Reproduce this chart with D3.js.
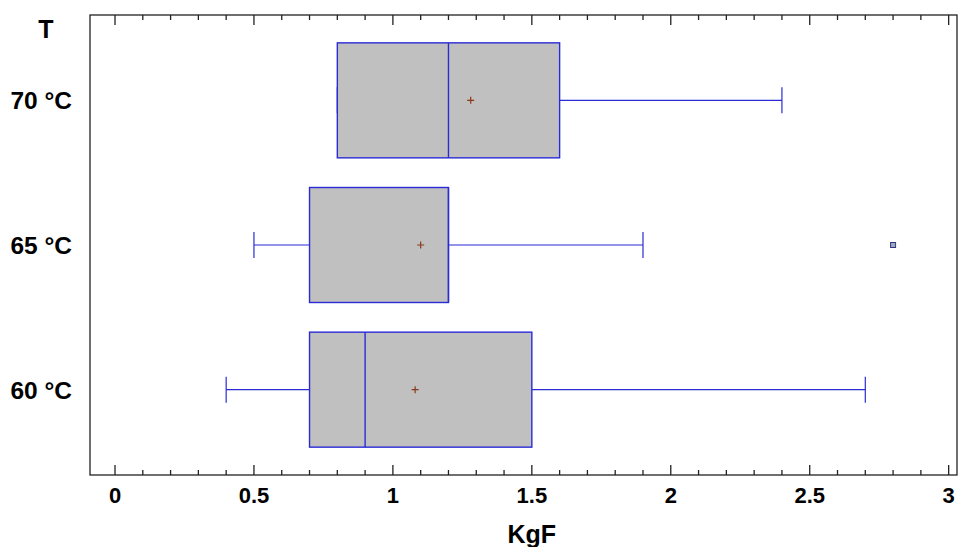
<!DOCTYPE html>
<html>
<head>
<meta charset="utf-8">
<script src="https://cdn.jsdelivr.net/npm/d3@7"></script>
<style>
body { margin: 0; background: #fff; }
text { font-family: "Liberation Sans", Arial, sans-serif; font-weight: bold; }
</style>
</head>
<body>
<div id="figure"></div>
<script>
const groups = ['70 °C', '65 °C', '60 °C']
const lowWhisker = [0.8, 0.5, 0.4]
const q1 = [0.8, 0.7, 0.7]
const median = [1.2, 1.2, 0.9]
const q3 = [1.6, 1.2, 1.5]
const highWhisker = [2.4, 1.9, 2.7]
const means = [1.28, 1.1, 1.08]
const outliers = [[], [2.8], []]
const xTicks = [0, 0.5, 1, 1.5, 2, 2.5, 3]

const width = 962, height = 547
const plotLeft = 90, plotRight = 957, plotTop = 15, plotBottom = 475

const svg = d3.select('#figure').append('svg')
	.attr('width', width)
	.attr('height', height)

const x = d3.scaleLinear()
	.domain([-0.09, 3.03])
	.range([plotLeft, plotRight])

const y = d3.scalePoint()
	.domain(groups)
	.range([plotTop, plotBottom])
	.padding(0.59)

const boxH = 115

// frame
svg.append('rect')
	.attr('x', plotLeft)
	.attr('y', plotTop)
	.attr('width', plotRight - plotLeft)
	.attr('height', plotBottom - plotTop)
	.attr('fill', 'none')
	.attr('stroke', '#222')
	.attr('stroke-width', 1.3)

// ticks, top and bottom, pointing inward
const minor = d3.range(0, 3.001, 0.1)
minor.forEach(function(v) {
	const isMajor = Math.abs(v * 2 - Math.round(v * 2)) < 1e-6
	const len = isMajor ? 10 : 5
	svg.append('line')
		.attr('x1', x(v)).attr('x2', x(v))
		.attr('y1', plotTop).attr('y2', plotTop + len)
		.attr('stroke', '#222').attr('stroke-width', 1.3)
	svg.append('line')
		.attr('x1', x(v)).attr('x2', x(v))
		.attr('y1', plotBottom).attr('y2', plotBottom - len)
		.attr('stroke', '#222').attr('stroke-width', 1.3)
})

svg.append('g')
	.selectAll('text')
	.data(xTicks)
	.enter()
	.append('text')
	.attr('x', d => x(d))
	.attr('y', 503)
	.attr('text-anchor', 'middle')
	.attr('font-size', 22)
	.attr('fill', '#000')
	.text(d => d)

svg.append('text')
	.attr('x', x(1.5))
	.attr('y', 543)
	.attr('text-anchor', 'middle')
	.attr('font-size', 25)
	.text('KgF')

svg.append('text')
	.attr('x', 46)
	.attr('y', 38)
	.attr('text-anchor', 'middle')
	.attr('font-size', 25)
	.text('T')

svg.append('g')
	.selectAll('text')
	.data(groups)
	.enter()
	.append('text')
	.attr('x', 72)
	.attr('y', d => y(d) + 9)
	.attr('text-anchor', 'end')
	.attr('font-size', 24.5)
	.text(d => d)

const blue = '#2b2bd6'

groups.forEach(function(g, i) {
	const cy = y(g)
	// whiskers
	svg.append('line')
		.attr('x1', x(lowWhisker[i])).attr('x2', x(q1[i]))
		.attr('y1', cy).attr('y2', cy)
		.attr('stroke', blue).attr('stroke-width', 1.2)
	svg.append('line')
		.attr('x1', x(q3[i])).attr('x2', x(highWhisker[i]))
		.attr('y1', cy).attr('y2', cy)
		.attr('stroke', blue).attr('stroke-width', 1.2)
	;[lowWhisker[i], highWhisker[i]].forEach(function(v) {
		svg.append('line')
			.attr('x1', x(v)).attr('x2', x(v))
			.attr('y1', cy - 13).attr('y2', cy + 13)
			.attr('stroke', blue).attr('stroke-width', 1.2)
	})
	// box
	svg.append('rect')
		.attr('x', x(q1[i]))
		.attr('y', cy - boxH / 2)
		.attr('width', x(q3[i]) - x(q1[i]))
		.attr('height', boxH)
		.attr('fill', '#c0c0c0')
		.attr('stroke', blue)
		.attr('stroke-width', 1.4)
	svg.append('line')
		.attr('x1', x(median[i])).attr('x2', x(median[i]))
		.attr('y1', cy - boxH / 2).attr('y2', cy + boxH / 2)
		.attr('stroke', blue).attr('stroke-width', 1.4)
	// mean marker
	const mx = x(means[i])
	svg.append('path')
		.attr('d', `M${mx - 3.5},${cy}H${mx + 3.5}M${mx},${cy - 3.5}V${cy + 3.5}`)
		.attr('stroke', '#8a3a1a').attr('stroke-width', 1.2)
	// outliers
	outliers[i].forEach(function(v) {
		svg.append('rect')
			.attr('x', x(v) - 2.5)
			.attr('y', cy - 2.5)
			.attr('width', 5)
			.attr('height', 5)
			.attr('fill', '#a0a8c0')
			.attr('stroke', '#2b3a80')
			.attr('stroke-width', 1)
	})
})
</script>
</body>
</html>
